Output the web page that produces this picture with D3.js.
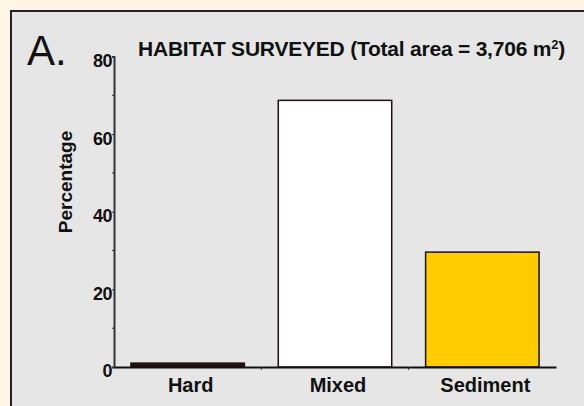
<!DOCTYPE html>
<html><head><meta charset="utf-8">
<script src="https://cdn.jsdelivr.net/npm/d3@7"></script>
<style>html,body{margin:0;padding:0;background:#fdf5e6;overflow:hidden}</style>
</head><body>
<script>
const categories = ["Hard", "Mixed", "Sediment"];
const values = [1.0, 68.7, 29.6];
const colors = ["#2b0c0c", "#ffffff", "#ffcc00"];
const yTicks = [0, 20, 40, 60, 80];
const title = "HABITAT SURVEYED (Total area = 3,706 m";
const panelLabel = "A.";
const yLabel = "Percentage";

const W = 584, H = 406;
const svg = d3.select("body").append("svg").attr("width", W).attr("height", H);
svg.append("rect").attr("width", W).attr("height", H).attr("fill", "#fdf5e6");
svg.append("rect").attr("x", 11).attr("y", 11).attr("width", 600).attr("height", 420)
  .attr("fill", "#e6e6e6").attr("stroke", "#222").attr("stroke-width", 2);

const x = d3.scaleBand().domain(categories).range([114, 556]).paddingInner(0.23).paddingOuter(0.115);
const y = d3.scaleLinear().domain([0, 80]).range([367, 56.5]);
const font = "Arial, 'Liberation Sans', sans-serif";

// bars
svg.selectAll("rect.bar").data(categories).enter().append("rect").attr("class", "bar")
  .attr("x", d => x(d)).attr("width", x.bandwidth())
  .attr("y", (d, i) => y(values[i])).attr("height", (d, i) => y(0) - y(values[i]))
  .attr("fill", (d, i) => colors[i]).attr("stroke", "#1a1010").attr("stroke-width", 1.5);

// y axis
const yAxis = svg.append("g").attr("transform", "translate(114,0)")
  .call(d3.axisLeft(y).tickValues(yTicks).tickSize(2).tickPadding(0));
yAxis.select(".domain").attr("stroke", "#333").attr("stroke-width", 2);
yAxis.selectAll("text").attr("font-family", font).attr("font-weight", "bold").attr("font-size", 18)
  .attr("fill", "#111").attr("letter-spacing", -0.5).attr("dy", "0.55em");
yAxis.selectAll("line").attr("stroke", "#333");
const minor = d3.range(10, 80, 20);
svg.selectAll("line.minor").data(minor).enter().append("line").attr("class", "minor")
  .attr("x1", 112).attr("x2", 114).attr("y1", d => y(d)).attr("y2", d => y(d)).attr("stroke", "#333");

// x axis
const xAxis = svg.append("g").attr("transform", "translate(0,367)")
  .call(d3.axisBottom(x).tickSize(0).tickPadding(13));
xAxis.select(".domain").attr("stroke", "#111").attr("stroke-width", 2);
xAxis.selectAll("text").attr("font-family", font).attr("font-weight", "bold").attr("font-size", 20)
  .attr("fill", "#111").attr("dx", 3).attr("dy", "0.6em");
const bounds = categories.slice(1).map(c => x(c) - x.step() * x.paddingInner() / 2);
svg.selectAll("line.xb").data(bounds).enter().append("line").attr("class", "xb")
  .attr("x1", d => d).attr("x2", d => d).attr("y1", 367).attr("y2", 370).attr("stroke", "#333");

// labels
svg.append("text").attr("transform", "translate(72,182) rotate(-90)").attr("text-anchor", "middle")
  .attr("font-family", font).attr("font-weight", "bold").attr("font-size", 19).attr("fill", "#111").text(yLabel);
svg.append("text").attr("x", 27).attr("y", 65).attr("font-family", font).attr("font-size", 42).attr("fill", "#111").text(panelLabel);
const t = svg.append("text").attr("x", 138).attr("y", 56).attr("font-family", font).attr("font-weight", "bold")
  .attr("font-size", 21).attr("fill", "#111");
t.append("tspan").text(title);
t.append("tspan").attr("font-size", 13).attr("dy", -7).text("2");
t.append("tspan").attr("dy", 7).text(")");
// fit title to its measured span in the reference
const tw = t.node().getComputedTextLength();
const nChars = title.length + 2;
t.attr("letter-spacing", (427 - tw) / nChars);
</script>
</body></html>
